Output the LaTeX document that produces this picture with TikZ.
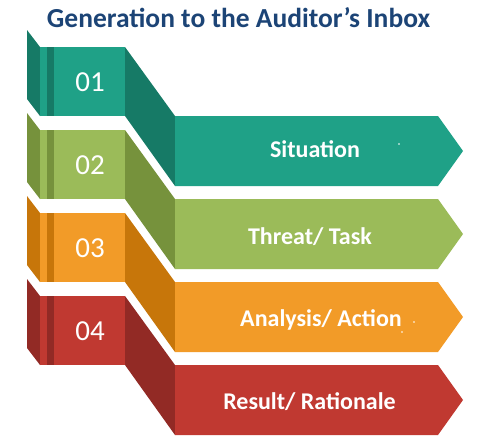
\documentclass[tikz,border=0pt]{standalone}
\usepackage{fontspec}
\setmainfont{Carlito}
\definecolor{tealM}{RGB}{31,161,135}
\definecolor{tealD}{RGB}{22,122,102}
\definecolor{greenM}{RGB}{155,187,89}
\definecolor{greenD}{RGB}{118,146,60}
\definecolor{orangeM}{RGB}{242,155,40}
\definecolor{orangeD}{RGB}{199,118,10}
\definecolor{redM}{RGB}{192,57,49}
\definecolor{redD}{RGB}{146,42,37}
\definecolor{titleblue}{RGB}{28,68,118}
\tikzset{
  numtext/.style={text=white, inner sep=0pt, text height=18.3pt, text depth=0pt, font=\fontsize{29}{29}\selectfont},
  labtext/.style={text=white, inner sep=0pt, text height=15.4pt, text depth=0pt, font=\bfseries\fontsize{24}{24}\selectfont},
  titletext/.style={text=titleblue, inner sep=0pt, text height=17.6pt, text depth=0pt, font=\bfseries\fontsize{27.5}{27.5}\selectfont},
  speck/.style={fill=white, draw=none}
}
\begin{document}
\begin{tikzpicture}[x=1pt,y=-1pt]
\useasboundingbox (0,0) rectangle (488,447);
\node[titletext] (title) at (238.5,18.5) {Generation to the Auditor’s Inbox};
\foreach \i/\m/\d/\num/\lab/\lx/\ly in {0/tealM/tealD/01/{Situation}/315/150,
                                       1/greenM/greenD/02/{Threat/ Task}/310/236.5,
                                       2/orangeM/orangeD/03/{Analysis/ Action}/321/319,
                                       3/redM/redD/04/{Result/ Rationale}/309.5/402}{
  \pgfmathsetmacro\t{47+83*\i}
  % left side face
  \fill[\d] (27,\t-17) -- (40,\t) -- (40,\t+69) -- (27,\t+52) -- cycle;
  % front face
  \fill[\m] (40,\t) rectangle (125,\t+69);
  \fill[\d] (47,\t) rectangle (54,\t+69);
  % diagonal face
  \fill[\d] (125,\t) -- (175,\t+69) -- (175,\t+139) -- (125,\t+69) -- cycle;
  % arrow
  \fill[\m] (175,\t+69) -- (438,\t+69) -- (463,\t+104) -- (438,\t+139) -- (175,\t+139) -- cycle;
  \node[numtext] (n\i) at (90,\t+35.5) {\num};
  \node[labtext] (l\i) at (\lx,\ly) {\lab};
}
\fill[speck] (399,144) circle (0.8);
\fill[speck] (414,322) circle (0.8);
\fill[speck] (402,332) circle (0.8);
\end{tikzpicture}
\end{document}
